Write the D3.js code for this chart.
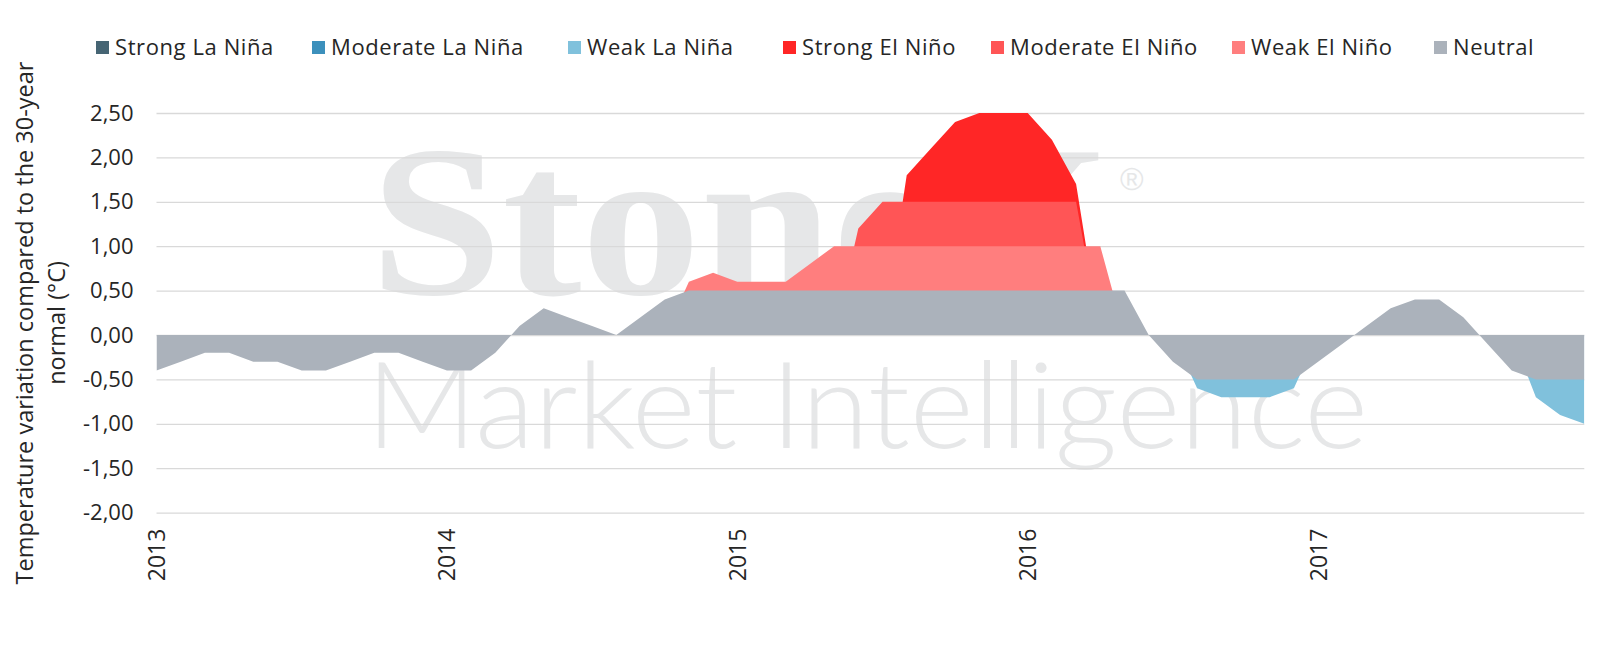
<!DOCTYPE html>
<html>
<head>
<meta charset="utf-8">
<script src="https://cdn.jsdelivr.net/npm/d3@7"></script>
<style>
  body { margin: 0; background: #fff; }
  svg { display: block; }
</style>
</head>
<body>
<svg id="chart" width="1600" height="670"></svg>
<script>
// Maandelijkse ONI-waarden, jan 2013 t/m dec 2017
const years = [2013, 2014, 2015, 2016, 2017];
const oni = [
  -0.4, -0.3, -0.2, -0.2, -0.3, -0.3, -0.4, -0.4, -0.3, -0.2, -0.2, -0.3,
  -0.4, -0.4, -0.2, 0.1, 0.3, 0.2, 0.1, 0.0, 0.2, 0.4, 0.6, 0.7,
  0.6, 0.6, 0.6, 0.8, 1.0, 1.2, 1.5, 1.8, 2.1, 2.4, 2.5, 2.6,
  2.5, 2.2, 1.7, 1.0, 0.5, 0.0, -0.3, -0.6, -0.7, -0.7, -0.7, -0.6,
  -0.3, -0.1, 0.1, 0.3, 0.4, 0.4, 0.2, -0.1, -0.4, -0.7, -0.9, -1.0
];

// Categorieen in legendavolgorde (ook de tekenvolgorde)
const categories = ['Strong La Niña', 'Moderate La Niña', 'Weak La Niña', 'Strong El Niño', 'Moderate El Niño', 'Weak El Niño', 'Neutral'];
const colors = ['#466574', '#3C90BC', '#80C1DC', '#FF2626', '#FF5556', '#FF7E7E', '#ABB2BB'];
// drempel waarboven/waaronder een maand bij de categorie hoort, en het plafond van de band
const bandLow = [-1.5, -1.0, -0.5, 1.5, 1.0, 0.5, null];
const bandCap = [null, -1.5, -1.0, null, 1.5, 1.0, null];

const yTicks = [-2, -1.5, -1, -0.5, 0, 0.5, 1, 1.5, 2, 2.5];
const yTitle = ['Temperature variation compared to the 30-year', 'normal (°C)'];

// y(0) valt precies op een hele pixel, dan geen naden tussen de vlakken
const plotLeft = 156.5, plotRight = 1584.3, plotTop = 113, plotBottom = 512.6;
const font = '"Open Sans", Lato, sans-serif';
const textColor = '#262626';

// Waarde van een maand binnen een categorie (0 als de maand er niet bij hoort)
const bandValue = (v, i) => {
    if (bandLow[i] === null) return Math.max(-0.5, Math.min(0.5, v));
    const lo = bandLow[i], cap = bandCap[i];
    if (lo < 0) return v < lo ? (cap === null ? v : Math.max(v, cap)) : 0;
    return v > lo ? (cap === null ? v : Math.min(v, cap)) : 0;
};

const svg = d3.select('#chart');

const x = d3.scaleLinear().domain([0, oni.length - 1]).range([plotLeft, plotRight]);
const y = d3.scaleLinear().domain([-2, 2.5]).range([plotBottom, plotTop]);
const y0 = Math.round(y(0));

// Watermerk achter alles
const wm = svg.append('g').attr('fill', '#E6E7E8');
wm.append('text')
    .attr('x', 370).attr('y', 294)
    .attr('textLength', 740).attr('lengthAdjust', 'spacingAndGlyphs')
    .style('font-family', '"Liberation Serif", serif')
    .style('font-weight', 700)
    .style('font-size', '216px')
    .text('StoneX');
wm.append('text')
    .attr('x', 1120).attr('y', 190)
    .style('font-family', '"Liberation Sans", sans-serif')
    .style('font-size', '32px')
    .text('®');
wm.append('text')
    .attr('x', 366).attr('y', 448)
    .attr('textLength', 1002).attr('lengthAdjust', 'spacingAndGlyphs')
    .style('font-family', 'Lato, sans-serif')
    .style('font-weight', 300)
    .style('font-size', '120px')
    .text('Market Intelligence');

// Y-as met rasterlijnen
const locale = d3.formatLocale({decimal: ',', thousands: '.', grouping: [3], currency: ['', ''], minus: '-'});
const yAxis = svg.append('g')
    .attr('transform', `translate(${plotLeft},0)`)
    .call(d3.axisLeft(y)
        .tickValues(yTicks)
        .tickFormat(locale.format('.2f'))
        .tickSizeInner(-(plotRight - plotLeft))
        .tickSizeOuter(0)
        .tickPadding(23));
yAxis.select('.domain').remove();
yAxis.selectAll('line').attr('stroke', '#D9D9D9').attr('stroke-width', 1.3);
yAxis.selectAll('text')
    .attr('fill', textColor)
    .style('font-family', font)
    .style('font-size', '22px');

// Vlakken, in legendavolgorde zodat Neutral vooraan ligt
svg.append('clipPath').attr('id', 'plot-clip')
    .append('rect')
    .attr('x', plotLeft).attr('y', plotTop)
    .attr('width', plotRight - plotLeft).attr('height', plotBottom - plotTop);

const areas = svg.append('g').attr('clip-path', 'url(#plot-clip)');
categories.forEach((name, i) => {
    const area = d3.area()
        .x((d, k) => x(k))
        .y0(y0)
        .y1(v => y(bandValue(v, i)));
    areas.append('path')
        .datum(oni)
        .attr('d', area)
        .attr('fill', colors[i]);
});

// X-as met jaartallen (verticaal)
const xAxis = svg.append('g')
    .attr('transform', `translate(0,${plotBottom})`)
    .call(d3.axisBottom(x)
        .tickValues(years.map((d, i) => i * 12))
        .tickFormat(k => years[k / 12])
        .tickSize(0));
xAxis.select('.domain').remove();
xAxis.selectAll('text')
    .attr('transform', 'rotate(-90)')
    .attr('text-anchor', 'end')
    .attr('x', -16)
    .attr('y', 0)
    .attr('dy', '0.35em')
    .attr('fill', textColor)
    .style('font-family', font)
    .style('font-size', '23px');

// Titel van de y-as, twee regels
yTitle.forEach((line, i) => {
    svg.append('text')
        .attr('transform', `translate(${i === 0 ? 25 : 57},323) rotate(-90)`)
        .attr('text-anchor', 'middle')
        .attr('dy', '0.35em')
        .attr('fill', textColor)
        .style('font-family', font)
        .style('font-size', '23.5px')
        .text(line);
});

// Legenda bovenaan
const legendX = [96, 312, 568, 783, 991, 1232, 1434];
const legend = svg.append('g');
categories.forEach((name, i) => {
    const item = legend.append('g').attr('transform', `translate(${legendX[i]},0)`);
    item.append('rect')
        .attr('x', 0).attr('y', 41)
        .attr('width', 13).attr('height', 13)
        .attr('fill', colors[i]);
    item.append('text')
        .attr('x', 19).attr('y', 54.5)
        .attr('fill', textColor)
        .style('font-family', font)
        .style('font-size', '22px')
        .style('letter-spacing', '0.6px')
        .text(name);
});
</script>
</body>
</html>
